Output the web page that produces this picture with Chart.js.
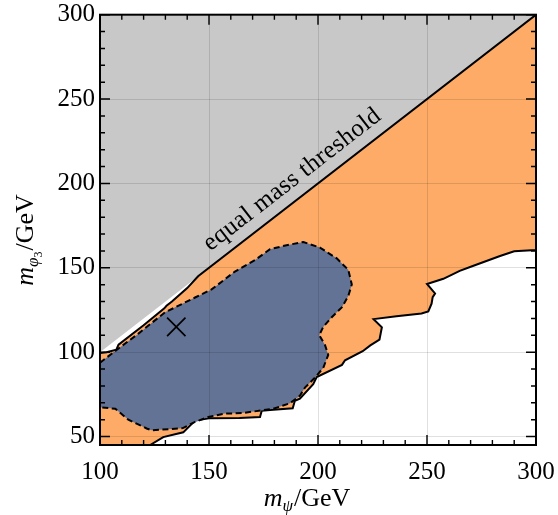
<!DOCTYPE html>
<html><head><meta charset="utf-8">
<script src="https://cdn.jsdelivr.net/npm/chart.js@4.4.1/dist/chart.umd.min.js"></script>
<style>html,body{margin:0;padding:0;background:#fff;}canvas{display:block;}</style>
</head><body>
<canvas id="c" width="558" height="515"></canvas>
<script>
// ---------- data ----------
const xTicks = [100, 150, 200, 250, 300];
const yTicks = [50, 100, 150, 200, 250, 300];
const xMinor = [110,120,130,140,160,170,180,190,210,220,230,240,260,270,280,290];
const yMinor = [60,70,80,90,110,120,130,140,160,170,180,190,210,220,230,240,260,270,280,290];

const greyX = [100, 300, 100, 100];
const greyY = [100, 300, 300, 100];

const orangeX = [100, 100, 103, 107.5, 108.5, 120, 129.5, 130.5, 133, 140, 145, 300, 300, 290, 283.5, 271, 265, 257.5, 250, 253.7, 252.6, 252.1, 250.6, 247.5, 236, 225.5, 229.3, 228.2, 224, 220.5, 212.4, 211, 199.4, 197.8, 191.7, 189.4, 188.4, 178, 174.2, 173.4, 164, 150, 143.6, 138.2, 129, 123, 100];
const orangeY = [45, 99.5, 100, 101.5, 104.5, 116, 126, 127.5, 130, 138, 145, 300, 160.5, 159.8, 157, 151.1, 148.2, 143.5, 140.4, 134.8, 132.6, 128.7, 124.2, 122.9, 121.3, 119.6, 114.8, 107.4, 104, 100.6, 95.2, 92.5, 85.3, 81, 72.5, 71.2, 66.8, 65.8, 65.3, 61.6, 61, 60.8, 59.5, 52.5, 49.7, 45, 45];

const blueX = [100, 107.6, 117.6, 129.8, 143.6, 151.2, 161.9, 171.1, 178, 185.6, 193.3, 200.9, 208.6, 213.9, 215.5, 213.9, 210.9, 206.3, 202.4, 200.6, 203.2, 204.7, 202.4, 198.6, 194, 191.7, 187.2, 179.5, 174.2, 165, 157.3, 149.7, 143.6, 138, 123.7, 121.4, 113, 107, 100, 100];
const blueY = [93.8, 101.3, 111, 123.6, 132.4, 137.2, 147.8, 154.6, 161, 163.4, 165.3, 162, 155.6, 148.8, 140.1, 133.3, 126.5, 120.7, 115, 110.1, 104.3, 98.4, 90.7, 84.9, 79, 74.2, 69.8, 66.5, 65.5, 63.9, 63.6, 61.6, 58.7, 55, 53.7, 54.8, 60, 66.5, 67.3, 93.8];

const markerX = [135];
const markerY = [115];

const thresholdLabel = 'equal mass threshold';

// ---------- helpers ----------
const pts = (xs, ys) => xs.map((x, i) => ({x: x, y: ys[i]}));
const SERIF = '"Liberation Serif", "DejaVu Serif", serif';

function drawPieces(ctx, pieces, cx, cy) {
  let w = 0;
  pieces.forEach(p => { ctx.font = p.f; p.w = ctx.measureText(p.t).width; w += p.w + (p.gap || 0); });
  let x = cx - w / 2;
  ctx.textAlign = 'left';
  ctx.textBaseline = 'alphabetic';
  pieces.forEach(p => { ctx.font = p.f; ctx.fillText(p.t, x, cy + (p.dy || 0)); x += p.w + (p.gap || 0); });
}

const decor = {
  id: 'decor',
  afterDraw(chart) {
    const ctx = chart.ctx, xa = chart.scales.x, ya = chart.scales.y, ca = chart.chartArea;
    ctx.save();
    ctx.strokeStyle = '#000';
    ctx.lineWidth = 1.4;
    ctx.beginPath();
    const tickX = (v, len) => { const p = xa.getPixelForValue(v);
      ctx.moveTo(p, ca.bottom); ctx.lineTo(p, ca.bottom - len);
      ctx.moveTo(p, ca.top); ctx.lineTo(p, ca.top + len); };
    const tickY = (v, len) => { const p = ya.getPixelForValue(v);
      ctx.moveTo(ca.left, p); ctx.lineTo(ca.left + len, p);
      ctx.moveTo(ca.right, p); ctx.lineTo(ca.right - len, p); };
    xTicks.forEach(v => tickX(v, 10)); xMinor.forEach(v => tickX(v, 5));
    yTicks.forEach(v => tickY(v, 10)); yMinor.forEach(v => tickY(v, 5));
    ctx.stroke();
    ctx.lineWidth = 2;
    ctx.strokeRect(ca.left, ca.top, ca.right - ca.left, ca.bottom - ca.top);

    // threshold label along y = x
    const p0x = xa.getPixelForValue(100), p0y = ya.getPixelForValue(100);
    const p1x = xa.getPixelForValue(300), p1y = ya.getPixelForValue(300);
    const a = Math.atan2(p1y - p0y, p1x - p0x);
    const lx = xa.getPixelForValue(154), ly = ya.getPixelForValue(154);
    const off = 12;
    ctx.save();
    ctx.translate(lx + Math.sin(a) * off, ly - Math.cos(a) * off);
    ctx.rotate(a);
    ctx.fillStyle = '#000';
    ctx.font = '25px ' + SERIF;
    try { ctx.letterSpacing = '0.4px'; } catch (e) {}
    ctx.textAlign = 'left';
    ctx.textBaseline = 'alphabetic';
    ctx.fillText(thresholdLabel, 0, 0);
    try { ctx.letterSpacing = '0px'; } catch (e) {}
    ctx.restore();

    // axis titles
    ctx.fillStyle = '#000';
    drawPieces(ctx, [
      {t: 'm', f: 'italic 26px ' + SERIF},
      {t: 'ψ', f: 'italic 17px ' + SERIF, dy: 5, gap: 1},
      {t: '/GeV', f: '26px ' + SERIF}
    ], 307, 506);
    ctx.save();
    ctx.translate(33, 240);
    ctx.rotate(-Math.PI / 2);
    drawPieces(ctx, [
      {t: 'm', f: 'italic 26px ' + SERIF},
      {t: 'φ', f: 'italic 17px ' + SERIF, dy: 5},
      {t: '3', f: '12px ' + SERIF, dy: 9, gap: 1},
      {t: '/GeV', f: '26px ' + SERIF}
    ], 0, 0);
    ctx.restore();
    ctx.restore();
  }
};

const tickFont = {family: SERIF, size: 25};

new Chart(document.getElementById('c'), {
  type: 'scatter',
  data: {
    datasets: [
      {label: 'marker', data: pts(markerX, markerY), order: 0, showLine: false,
       pointStyle: 'crossRot', pointRadius: 13, borderColor: '#000', borderWidth: 1.7, backgroundColor: '#000'},
      {label: 'blue', data: pts(blueX, blueY), order: 1, showLine: true, fill: 'shape', tension: 0,
       pointRadius: 0, borderColor: '#000', borderWidth: 2, borderDash: [6, 3.5], backgroundColor: '#637395'},
      {label: 'orange', data: pts(orangeX, orangeY), order: 2, showLine: true, fill: 'shape', tension: 0,
       pointRadius: 0, borderColor: '#000', borderWidth: 2, backgroundColor: '#fdab66'},
      {label: 'grey', data: pts(greyX, greyY), order: 3, showLine: true, fill: 'shape', tension: 0,
       pointRadius: 0, borderWidth: 0, borderColor: 'rgba(0,0,0,0)', backgroundColor: '#c8c8c8'}
    ]
  },
  options: {
    responsive: false,
    animation: false,
    devicePixelRatio: 1,
    layout: {padding: {left: 0, right: 22, top: 8, bottom: 0}},
    plugins: {legend: {display: false}, tooltip: {enabled: false}},
    scales: {
      x: {
        type: 'linear', min: 100, max: 300,
        afterBuildTicks: ax => { ax.ticks = xTicks.map(v => ({value: v})); },
        afterFit: s => { s.height = 70; s.paddingLeft = 0; s.paddingRight = 0; },
        grid: {color: 'rgba(0,0,0,0.12)', lineWidth: 1, drawTicks: false, z: 1},
        border: {display: false},
        ticks: {font: tickFont, color: '#000', padding: 12, maxRotation: 0, autoSkip: false}
      },
      y: {
        type: 'linear', min: 45, max: 300,
        afterBuildTicks: ax => { ax.ticks = yTicks.map(v => ({value: v})); },
        afterFit: s => { s.width = 100; s.paddingTop = 0; s.paddingBottom = 0; },
        grid: {color: 'rgba(0,0,0,0.12)', lineWidth: 1, drawTicks: false, z: 1},
        border: {display: false},
        ticks: {font: tickFont, color: '#000', padding: 5, autoSkip: false}
      }
    }
  },
  plugins: [decor]
});
</script>
</body></html>
